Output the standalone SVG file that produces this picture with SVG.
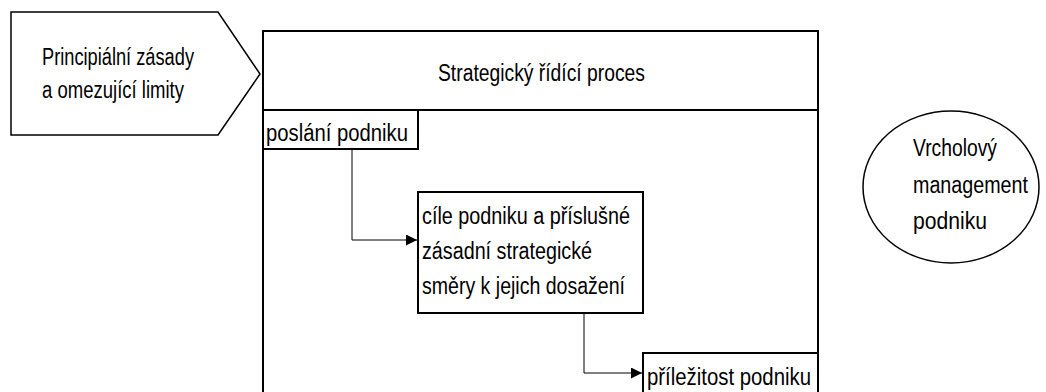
<svg xmlns="http://www.w3.org/2000/svg" width="1046" height="392" viewBox="0 0 1046 392">
<style>
  text { font-family: "Liberation Sans", Arial, sans-serif; font-size: 23px; fill: #000; }
  .box { fill: #fff; stroke: #000; stroke-width: 2; }
  .thin { fill: none; stroke: #000; stroke-width: 1.5; }
  .conn { fill: none; stroke: #000; stroke-width: 1; }
</style>
<defs>
  <marker id="arr" viewBox="0 0 10 10" refX="10" refY="5" markerWidth="11" markerHeight="11" markerUnits="userSpaceOnUse" orient="auto">
    <path d="M0,0 L10,5 L0,10 z" fill="#000"/>
  </marker>
</defs>
<rect width="1046" height="392" fill="#fff"/>
<g id="limits">
  <path class="thin" d="M11,12 L218,12 L260,74 L218,135 L11,135 Z"/>
  <text x="42" y="65" textLength="152" lengthAdjust="spacingAndGlyphs">Principiální zásady</text>
  <text x="42" y="98" textLength="142" lengthAdjust="spacingAndGlyphs">a omezující limity</text>
</g>
<g id="process">
  <rect class="box" x="263" y="31" width="555" height="375"/>
  <line x1="263" y1="110" x2="818" y2="110" stroke="#000" stroke-width="2"/>
  <text x="438" y="81" textLength="207" lengthAdjust="spacingAndGlyphs">Strategický řídící proces</text>
</g>
<g id="mission">
  <rect class="box" x="263" y="110" width="155" height="39"/>
  <text x="266" y="141" textLength="142" lengthAdjust="spacingAndGlyphs">poslání podniku</text>
</g>
<g id="goals">
  <rect class="box" x="418" y="192" width="225" height="121"/>
  <text x="422" y="224" textLength="208" lengthAdjust="spacingAndGlyphs">cíle podniku a příslušné</text>
  <text x="422" y="259" textLength="170" lengthAdjust="spacingAndGlyphs">zásadní strategické</text>
  <text x="422" y="294" textLength="203" lengthAdjust="spacingAndGlyphs">směry k jejich dosažení</text>
</g>
<g id="opportunity">
  <rect class="box" x="643" y="353" width="175" height="60"/>
  <text x="647" y="385" textLength="164" lengthAdjust="spacingAndGlyphs">příležitost podniku</text>
</g>
<g id="management">
  <ellipse cx="951" cy="187" rx="88" ry="76" fill="#fff" stroke="#000" stroke-width="1.5"/>
  <text x="913" y="156" textLength="84" lengthAdjust="spacingAndGlyphs">Vrcholový</text>
  <text x="913" y="193" textLength="115" lengthAdjust="spacingAndGlyphs">management</text>
  <text x="913" y="229" textLength="74" lengthAdjust="spacingAndGlyphs">podniku</text>
</g>
<g id="connectors">
  <path class="conn" d="M352,149 L352,240 L417,240" marker-end="url(#arr)"/>
  <path class="conn" d="M584,313 L584,373 L642,373" marker-end="url(#arr)"/>
</g>
</svg>
